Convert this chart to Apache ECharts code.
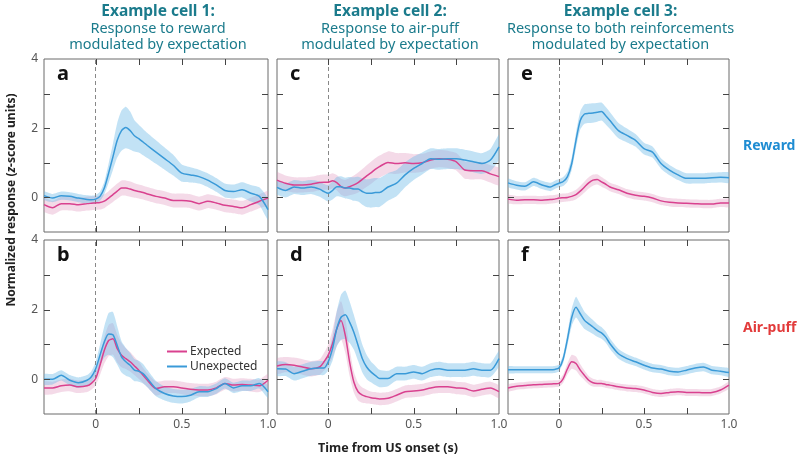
<!DOCTYPE html>
<html><head><meta charset="utf-8">
<script src="https://cdn.jsdelivr.net/npm/echarts@6/dist/echarts.min.js"></script>
<style>html,body{margin:0;padding:0;background:#fff}#c{width:800px;height:458px}</style>
</head><body><div id="c"></div>
<script>
// ---- Data ----
const times = [-0.3,-0.25,-0.2,-0.15,-0.1,-0.05,-0.025,0,0.025,0.05,0.075,0.1,0.125,0.15,0.175,0.2,0.225,0.25,0.275,0.3,0.35,0.4,0.45,0.5,0.55,0.6,0.65,0.7,0.75,0.8,0.85,0.9,0.95,1.0];

const aU = [0.05,-0.02,0.05,0.03,-0.02,-0.06,-0.07,-0.05,0.03,0.27,0.7,1.17,1.65,1.93,2.02,1.93,1.78,1.7,1.6,1.5,1.31,1.12,0.93,0.7,0.65,0.6,0.5,0.36,0.2,0.17,0.22,0.12,0.03,-0.35];
const aUsem = [0.12,0.12,0.12,0.12,0.12,0.12,0.12,0.12,0.13,0.18,0.28,0.38,0.5,0.58,0.6,0.55,0.45,0.4,0.38,0.36,0.34,0.32,0.3,0.25,0.22,0.2,0.2,0.2,0.2,0.2,0.22,0.24,0.26,0.3];
const aE = [-0.21,-0.3,-0.18,-0.18,-0.21,-0.18,-0.17,-0.16,-0.15,-0.11,-0.02,0.08,0.18,0.27,0.27,0.24,0.2,0.17,0.14,0.1,0.03,-0.02,-0.09,-0.09,-0.11,-0.18,-0.11,-0.16,-0.23,-0.26,-0.3,-0.21,-0.11,-0.02];
const aEsem = [0.2,0.2,0.2,0.2,0.2,0.2,0.2,0.2,0.2,0.2,0.2,0.21,0.22,0.22,0.22,0.22,0.21,0.2,0.2,0.2,0.2,0.2,0.2,0.2,0.2,0.2,0.2,0.2,0.2,0.2,0.2,0.2,0.2,0.2];

const bU = [0.0,0.0,0.11,-0.03,-0.1,-0.03,0.07,0.3,0.69,1.07,1.3,1.28,0.97,0.64,0.5,0.4,0.26,0.23,0.16,0.02,-0.27,-0.41,-0.48,-0.5,-0.46,-0.36,-0.36,-0.27,-0.12,-0.25,-0.19,-0.19,-0.12,-0.36];
const bUsem = [0.15,0.15,0.15,0.15,0.15,0.15,0.16,0.2,0.3,0.45,0.6,0.65,0.55,0.45,0.4,0.35,0.32,0.3,0.28,0.25,0.22,0.2,0.2,0.2,0.18,0.16,0.15,0.15,0.15,0.15,0.15,0.15,0.15,0.18];
const bE = [-0.25,-0.25,-0.19,-0.17,-0.22,-0.19,-0.12,0.02,0.4,0.83,1.11,1.16,0.88,0.69,0.59,0.5,0.38,0.26,0.11,-0.03,-0.27,-0.22,-0.22,-0.25,-0.29,-0.31,-0.31,-0.25,-0.12,-0.17,-0.15,-0.17,-0.19,-0.03];
const bEsem = [0.18,0.18,0.18,0.18,0.18,0.18,0.18,0.2,0.28,0.38,0.45,0.45,0.4,0.35,0.3,0.28,0.26,0.25,0.22,0.2,0.2,0.18,0.18,0.18,0.18,0.18,0.18,0.18,0.18,0.18,0.18,0.18,0.18,0.18];

const cU = [0.29,0.2,0.3,0.27,0.3,0.24,0.17,0.12,0.2,0.31,0.31,0.27,0.27,0.24,0.24,0.17,0.12,0.12,0.14,0.14,0.3,0.41,0.65,0.84,0.98,1.12,1.1,1.12,1.12,1.08,1.03,0.98,1.08,1.46];
const cUsem = [0.2,0.2,0.2,0.2,0.2,0.22,0.22,0.24,0.26,0.28,0.3,0.3,0.32,0.34,0.36,0.38,0.4,0.42,0.42,0.42,0.4,0.38,0.36,0.34,0.32,0.3,0.3,0.3,0.3,0.3,0.3,0.3,0.32,0.35];
const cE = [0.5,0.41,0.36,0.36,0.38,0.43,0.44,0.44,0.48,0.43,0.31,0.27,0.31,0.36,0.43,0.52,0.62,0.71,0.81,0.89,1.01,0.98,1.0,0.98,1.0,1.08,1.12,1.1,1.03,0.79,0.77,0.77,0.68,0.6];
const cEsem = [0.22,0.22,0.22,0.22,0.22,0.22,0.22,0.22,0.22,0.22,0.23,0.24,0.25,0.27,0.29,0.3,0.31,0.32,0.32,0.32,0.32,0.3,0.28,0.27,0.26,0.25,0.25,0.25,0.25,0.25,0.25,0.25,0.25,0.25];

const dU = [0.3,0.29,0.16,0.23,0.3,0.32,0.32,0.5,0.88,1.45,1.78,1.85,1.64,1.35,0.97,0.59,0.35,0.21,0.11,0.02,0.02,0.16,0.16,0.21,0.16,0.26,0.3,0.26,0.26,0.26,0.3,0.26,0.26,0.59];
const dUsem = [0.2,0.2,0.2,0.2,0.2,0.2,0.2,0.25,0.35,0.5,0.65,0.7,0.6,0.5,0.45,0.4,0.35,0.3,0.28,0.25,0.22,0.2,0.2,0.2,0.2,0.2,0.2,0.2,0.2,0.2,0.2,0.2,0.2,0.22];
const dE = [0.38,0.42,0.4,0.35,0.3,0.35,0.5,0.69,1.02,1.45,1.69,1.26,0.5,-0.08,-0.36,-0.46,-0.5,-0.53,-0.55,-0.57,-0.55,-0.46,-0.36,-0.34,-0.31,-0.25,-0.22,-0.22,-0.25,-0.27,-0.34,-0.29,-0.25,-0.36];
const dEsem = [0.22,0.22,0.22,0.22,0.22,0.22,0.25,0.3,0.4,0.5,0.55,0.5,0.4,0.3,0.25,0.22,0.2,0.18,0.18,0.18,0.18,0.18,0.18,0.18,0.18,0.18,0.18,0.18,0.18,0.18,0.18,0.18,0.18,0.18];

const eU = [0.42,0.35,0.32,0.45,0.36,0.3,0.36,0.41,0.46,0.6,0.98,1.65,2.22,2.41,2.43,2.44,2.46,2.48,2.36,2.22,1.93,1.79,1.65,1.41,1.31,0.98,0.79,0.65,0.55,0.55,0.55,0.57,0.58,0.57];
const eUsem = [0.12,0.12,0.12,0.12,0.12,0.12,0.12,0.12,0.13,0.15,0.18,0.22,0.26,0.28,0.28,0.28,0.27,0.26,0.25,0.24,0.22,0.2,0.18,0.17,0.16,0.15,0.15,0.15,0.15,0.15,0.15,0.15,0.15,0.15];
const eE = [-0.05,-0.08,-0.07,-0.07,-0.08,-0.06,-0.05,-0.02,-0.01,0.0,0.03,0.08,0.18,0.3,0.42,0.5,0.52,0.45,0.38,0.3,0.22,0.12,0.06,0.03,-0.02,-0.1,-0.14,-0.16,-0.17,-0.18,-0.19,-0.19,-0.16,-0.16];
const eEsem = [0.12,0.12,0.12,0.12,0.12,0.12,0.12,0.12,0.12,0.12,0.13,0.14,0.15,0.16,0.16,0.16,0.15,0.14,0.13,0.12,0.12,0.12,0.12,0.12,0.12,0.12,0.12,0.12,0.12,0.12,0.12,0.12,0.12,0.12];

const fU = [0.27,0.27,0.27,0.27,0.27,0.27,0.28,0.32,0.59,1.16,1.78,2.07,1.88,1.69,1.59,1.5,1.4,1.33,1.21,1.02,0.73,0.59,0.5,0.4,0.32,0.29,0.23,0.21,0.26,0.32,0.35,0.26,0.23,0.19];
const fUsem = [0.1,0.1,0.1,0.1,0.1,0.1,0.1,0.1,0.12,0.18,0.25,0.3,0.28,0.25,0.22,0.2,0.18,0.17,0.16,0.15,0.14,0.13,0.12,0.12,0.12,0.12,0.12,0.12,0.12,0.12,0.12,0.12,0.12,0.12];
const fE = [-0.25,-0.2,-0.18,-0.16,-0.15,-0.14,-0.13,-0.12,0.02,0.3,0.5,0.45,0.26,0.11,-0.03,-0.1,-0.12,-0.12,-0.15,-0.17,-0.22,-0.25,-0.27,-0.31,-0.38,-0.41,-0.38,-0.36,-0.38,-0.38,-0.39,-0.38,-0.31,-0.17];
const fEsem = [0.1,0.1,0.1,0.1,0.1,0.1,0.1,0.1,0.12,0.16,0.2,0.2,0.17,0.14,0.12,0.11,0.1,0.1,0.1,0.1,0.1,0.1,0.1,0.1,0.1,0.1,0.1,0.1,0.1,0.1,0.1,0.1,0.1,0.1];

const panelLetters = ['a','b','c','d','e','f'];
const xTickValues = [0, 0.25, 0.5, 0.75];
const yTickValues = [0, 1, 2, 3];
const xLabelValues = [0, 0.5, 1.0];
const yLabelValues = [0, 2, 4];
const titles = [
  ['Example cell 1:', 'Response to reward', 'modulated by expectation'],
  ['Example cell 2:', 'Response to air-puff', 'modulated by expectation'],
  ['Example cell 3:', 'Response to both reinforcements', 'modulated by expectation']
];
const panels = [
  {E:aE,Es:aEsem,U:aU,Us:aUsem},
  {E:bE,Es:bEsem,U:bU,Us:bUsem},
  {E:cE,Es:cEsem,U:cU,Us:cUsem},
  {E:dE,Es:dEsem,U:dU,Us:dUsem},
  {E:eE,Es:eEsem,U:eU,Us:eUsem},
  {E:fE,Es:fEsem,U:fU,Us:fUsem}
];

// ---- Layout / style ----
const X_MIN = -0.3, X_MAX = 1.0, Y_MIN = -1, Y_MAX = 4;
const colLeft = [44, 277, 508], colWidth = [224, 222, 221];
const rowTop = [59, 240], rowHeight = [173, 174];
const BLUE = '#3a9ad8', PINK = '#d9418f';
const BLUE_BAND = 'rgba(110,185,232,0.42)', PINK_BAND = 'rgba(222,140,185,0.32)';
const FONT = '"Noto Sans", sans-serif';
const TEAL = '#1b7b8c';
const FRAME = '#6a6a6a';
const TICK = '#444';
const TICK_LEN = 6;

const grid = [], xAxis = [], yAxis = [], series = [], graphic = [];
panels.forEach((p, i) => {
  const col = Math.floor(i / 2), row = i % 2;
  grid.push({left: colLeft[col], top: rowTop[row], width: colWidth[col], height: rowHeight[row],
    show: true, borderColor: FRAME, borderWidth: 1});
  xAxis.push({type: 'value', gridIndex: i, min: X_MIN, max: X_MAX, position: 'bottom',
    axisLine: {show: false, onZero: false}, splitLine: {show: false}, axisTick: {show: false},
    axisLabel: {show: row === 1, customValues: xLabelValues.slice(), color: '#555', fontSize: 12, fontFamily: FONT, margin: 5,
      formatter: v => v === 0 ? '0' : v.toFixed(1)}});
  yAxis.push({type: 'value', gridIndex: i, min: Y_MIN, max: Y_MAX, interval: 1, position: 'left',
    axisLine: {show: false, onZero: false}, splitLine: {show: false}, axisTick: {show: false},
    axisLabel: {show: col === 0, customValues: yLabelValues.slice(), color: '#555', fontSize: 12, fontFamily: FONT, margin: 6}});
  const band = (mean, sem, fill) => {
    const data = times.map((t, k) => [t, mean[k] - sem[k], mean[k] + sem[k]]);
    return {type: 'custom', xAxisIndex: i, yAxisIndex: i, data, silent: true, clip: true, z: 1,
      encode: {x: 0, y: [1, 2]},
      renderItem: (params, api) => {
        if (params.dataIndex !== 0) return null;
        const pts = [];
        data.forEach(d => pts.push(api.coord([d[0], d[2]])));
        for (let k = data.length - 1; k >= 0; k--) pts.push(api.coord([data[k][0], data[k][1]]));
        return {type: 'polygon', shape: {points: pts, smooth: 0.2}, style: {fill: fill}};
      }};
  };
  series.push(band(p.E, p.Es, PINK_BAND));
  series.push(band(p.U, p.Us, BLUE_BAND));
  // inward tick marks on all four sides, placed through the axis scales
  series.push({type: 'custom', xAxisIndex: i, yAxisIndex: i, data: [[0, 0]], silent: true, clip: false, z: 6,
    encode: {x: 0, y: 1},
    renderItem: (params, api) => {
      const kids = [];
      const st = {stroke: TICK, lineWidth: 1};
      xTickValues.forEach(v => {
        const b = api.coord([v, Y_MIN]), t = api.coord([v, Y_MAX]);
        const x = Math.round(b[0]) + 0.5;
        kids.push({type: 'line', shape: {x1: x, y1: b[1], x2: x, y2: b[1] - TICK_LEN}, style: st});
        kids.push({type: 'line', shape: {x1: x, y1: t[1], x2: x, y2: t[1] + TICK_LEN}, style: st});
      });
      yTickValues.forEach(v => {
        const l = api.coord([X_MIN, v]), r = api.coord([X_MAX, v]);
        const y = Math.round(l[1]) + 0.5;
        kids.push({type: 'line', shape: {x1: l[0], y1: y, x2: l[0] + TICK_LEN, y2: y}, style: st});
        kids.push({type: 'line', shape: {x1: r[0], y1: y, x2: r[0] - TICK_LEN, y2: y}, style: st});
      });
      return {type: 'group', children: kids};
    }});
  series.push({name: 'Expected', type: 'line', xAxisIndex: i, yAxisIndex: i, showSymbol: false, smooth: 0.25, z: 3,
    data: times.map((t, k) => [t, p.E[k]]), lineStyle: {color: PINK, width: 1.5}, itemStyle: {color: PINK}, silent: true,
    markLine: {silent: true, symbol: 'none', label: {show: false}, z: 2,
      lineStyle: {color: '#888', type: [4, 3], width: 1}, data: [{xAxis: 0}]}});
  series.push({name: 'Unexpected', type: 'line', xAxisIndex: i, yAxisIndex: i, showSymbol: false, smooth: 0.25, z: 4,
    data: times.map((t, k) => [t, p.U[k]]), lineStyle: {color: BLUE, width: 1.5}, itemStyle: {color: BLUE}, silent: true});
  graphic.push({type: 'text', left: colLeft[col] + 13, top: rowTop[row] + 5,
    style: {text: panelLetters[i], font: 'bold 20px ' + FONT, fill: '#111'}});
});

// Column titles
titles.forEach((lines, c) => {
  const cx = colLeft[c] + colWidth[c] / 2 + 2;
  lines.forEach((ln, k) => {
    graphic.push({type: 'text', x: cx, y: 12 + k * 16.5,
      style: {text: ln, font: (k === 0 ? 'bold 15.5px ' : '14.5px ') + FONT, fill: TEAL, align: 'center', verticalAlign: 'middle'}});
  });
});

// Row labels
graphic.push({type: 'text', x: 743, y: 146, style: {text: 'Reward', font: 'bold 14px ' + FONT, fill: '#1e8cd2', verticalAlign: 'middle'}});
graphic.push({type: 'text', x: 743, y: 328, style: {text: 'Air-puff', font: 'bold 14px ' + FONT, fill: '#e23b3b', verticalAlign: 'middle'}});

// Axis titles
graphic.push({type: 'text', x: 12, y: 200, rotation: Math.PI / 2,
  style: {text: '{n|Normalized response (}{i|z}{n|-score units)}', align: 'center', verticalAlign: 'middle',
    rich: {n: {font: 'bold 12px ' + FONT, fill: '#222'}, i: {font: 'italic bold 12px ' + FONT, fill: '#222'}}}});
graphic.push({type: 'text', x: 388, y: 448,
  style: {text: 'Time from US onset (s)', font: 'bold 12.5px ' + FONT, fill: '#222', align: 'center', verticalAlign: 'middle'}});

const chart = echarts.init(document.getElementById('c'), null, {renderer: 'canvas'});
chart.setOption({
  animation: false,
  grid, xAxis, yAxis, series, graphic,
  legend: {left: 162, top: 340, orient: 'vertical', itemWidth: 20, itemHeight: 2, itemGap: 2,
    icon: 'rect', selectedMode: false,
    data: ['Expected', 'Unexpected'],
    textStyle: {fontFamily: FONT, fontSize: 12, color: '#333', lineHeight: 13, padding: [0, 0, 0, -2]}}
});
</script>
</body></html>
